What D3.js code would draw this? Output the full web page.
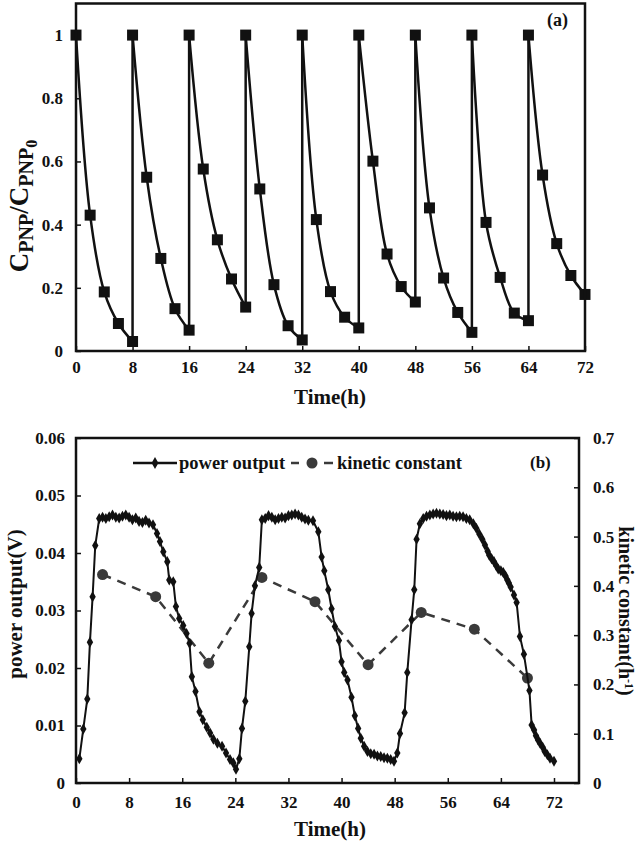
<!DOCTYPE html>
<html>
<head>
<meta charset="utf-8">
<script src="https://cdn.jsdelivr.net/npm/d3@7"></script>
<style>
  html, body { margin: 0; padding: 0; background: #fff; }
  svg { display: block; }
  text { font-family: "Liberation Serif", "Times New Roman", serif; font-weight: bold; fill: #111; }
</style>
</head>
<body>
<svg id="chart" width="642" height="843"></svg>
<script>
// ---------- Panel (a) data ----------
const timeA = [0,2,4,6,8, 8,10,12,14,16, 16,18,20,22,24, 24,26,28,30,32, 32,34,36,38,40,
               40,42,44,46,48, 48,50,52,54,56, 56,58,60,62,64, 64,66,68,70,72];
const concA = [1,0.43,0.187,0.087,0.03, 1,0.55,0.293,0.134,0.066, 1,0.576,0.352,0.228,0.139,
               1,0.513,0.21,0.08,0.035, 1,0.416,0.188,0.107,0.073, 1,0.601,0.307,0.204,0.155,
               1,0.453,0.231,0.122,0.059, 1,0.407,0.233,0.12,0.096, 1,0.557,0.34,0.239,0.179];
const xTicksA = [0,8,16,24,32,40,48,56,64,72];
const yTicksA = [0,0.2,0.4,0.6,0.8,1];

// ---------- Panel (b) data ----------
const powerTime = [0.5,1.1,1.7,2.1,2.5,2.9,3.5,4,4.5,5,5.5,6,6.5,7,7.5,8,8.5,9,9.5,10,10.5,11,11.6,
  12.2,12.65,13.15,13.75,14.05,14.65,15.05,15.55,16.15,16.65,17.1,17.45,18,18.6,19.1,19.7,20.2,20.7,
  21.3,22,22.6,23.2,23.7,24.1,24.6,25,25.5,26.1,26.45,26.95,27.6,28,
  28.5,29,29.5,30,30.5,31,31.5,32,32.5,33,33.5,34,34.5,35,35.7,36.5,37,37.4,38,38.5,39,39.6,40,40.4,
  40.9,41.5,42,42.5,42.9,43.4,43.9,44.4,44.9,45.4,45.9,46.4,46.9,47.4,47.9,48.4,48.8,49.5,49.9,50.55,
  50.95,51.3,51.8,52.3,52.8,53.3,53.8,54.3,54.8,55.3,55.8,56.3,56.8,57.3,57.8,58.3,58.8,59.3,59.85,
  60.3,60.75,61.2,61.6,62,62.25,62.6,62.96,63.3,63.6,64,64.36,64.7,64.97,65.2,65.47,65.97,66.37,66.87,
  67.47,68.3,68.63,69,69.28,69.6,69.9,70.3,70.6,71,71.4,72];
const powerValue = [0.0042,0.0094,0.0146,0.0245,0.0324,0.0413,0.046,0.0462,0.046,0.0463,0.0466,0.0462,
  0.0461,0.0464,0.0466,0.0462,0.0458,0.0461,0.0455,0.0453,0.0457,0.0452,0.0449,
  0.0434,0.042,0.0402,0.0385,0.0353,0.035,0.0307,0.0286,0.0274,0.026,0.0243,0.0185,0.0159,0.0124,0.011,
  0.0097,0.0087,0.0076,0.0069,0.0064,0.0052,0.0041,0.0035,0.0024,0.0042,0.0095,0.0142,0.0237,0.0295,
  0.0343,0.0375,0.0458,
  0.046,0.0465,0.0462,0.0458,0.046,0.0462,0.0461,0.0465,0.0466,0.0468,0.0466,0.0462,0.0459,0.0457,
  0.0456,0.0437,0.0393,0.0369,0.0336,0.0303,0.0272,0.0248,0.0211,0.0192,0.0179,0.0149,0.0117,0.0095,
  0.0078,0.0064,0.0055,0.0051,0.005,0.0047,0.0046,0.0044,0.0043,0.0041,0.0038,0.0052,0.0086,0.0122,
  0.0192,0.0284,0.0336,0.0424,0.0451,0.046,0.0464,0.0466,0.0468,0.0469,0.0468,0.0467,0.0465,0.0466,
  0.0464,0.0463,0.0464,0.0463,0.046,0.0458,0.0451,0.0443,0.0433,0.0424,0.0414,0.0403,0.0396,0.039,
  0.0385,0.0378,0.0372,0.0369,0.0366,0.036,0.0353,0.0348,0.0341,0.0327,0.0314,0.0255,0.0224,0.0161,
  0.0101,0.0092,0.0082,0.0075,0.0069,0.0062,0.0055,0.0049,0.0043,0.0038];
const kineticTime = [4,12,20,28,36,44,52,60,68];
const kineticValue = [0.423,0.378,0.243,0.417,0.368,0.24,0.346,0.312,0.213];
const xTicksB = [0,8,16,24,32,40,48,56,64,72];
const yTicksB = [0,0.01,0.02,0.03,0.04,0.05,0.06];
const kTicksB = [0,0.1,0.2,0.3,0.4,0.5,0.6,0.7];

const svg = d3.select("#chart");
const FS = 17;

function styleAxis(g) {
  g.select(".domain").remove();
  g.selectAll(".tick line").attr("stroke", "#111").attr("stroke-width", 1.5);
  g.selectAll(".tick text").style("font-size", FS + "px").attr("fill", "#111");
}

// ================= Panel (a) =================
const A = { l: 76, r: 585, t: 3.5, b: 351 };
const xA = d3.scaleLinear().domain([0, 72]).range([A.l, A.r]);
const yA = d3.scaleLinear().domain([0, 1.1]).range([A.b, A.t]);

const gA = svg.append("g");
gA.append("g").attr("transform", `translate(0,${A.b})`)
  .call(d3.axisBottom(xA).tickValues(xTicksA).tickSize(-5).tickSizeOuter(0).tickPadding(10))
  .call(styleAxis);
gA.append("g").attr("transform", `translate(${A.l},0)`)
  .call(d3.axisLeft(yA).tickValues(yTicksA).tickSize(-5).tickSizeOuter(0).tickPadding(13)
    .tickFormat(d => String(Math.round(d * 10) / 10)))
  .call(styleAxis);

// split series into cycles (restart where time repeats)
const ptsA = timeA.map((t, i) => ({ t, v: concA[i] }));
const cycles = [];
let cur = [];
ptsA.forEach((p, i) => {
  if (i > 0 && p.t === ptsA[i - 1].t) { cycles.push(cur); cur = []; }
  cur.push(p);
});
cycles.push(cur);

const lineA = d3.line().x(d => xA(d.t)).y(d => yA(d.v)).curve(d3.curveCatmullRom.alpha(0.5));
cycles.forEach(c => {
  gA.append("path").datum(c).attr("d", lineA)
    .attr("fill", "none").attr("stroke", "#111").attr("stroke-width", 2.5);
});
// vertical reset lines
for (let i = 1; i < ptsA.length; i++) {
  if (ptsA[i].t === ptsA[i - 1].t) {
    gA.append("line")
      .attr("x1", xA(ptsA[i].t)).attr("x2", xA(ptsA[i].t))
      .attr("y1", yA(ptsA[i - 1].v)).attr("y2", yA(ptsA[i].v))
      .attr("stroke", "#111").attr("stroke-width", 2.5);
  }
}
gA.selectAll("path.sq").data(ptsA).enter().append("path").attr("class", "sq")
  .attr("d", d3.symbol(d3.symbolSquare, 121))
  .attr("transform", d => `translate(${xA(d.t)},${yA(d.v)})`)
  .attr("fill", "#111");

gA.append("rect").attr("x", A.l).attr("y", A.t).attr("width", A.r - A.l).attr("height", A.b - A.t)
  .attr("fill", "none").attr("stroke", "#111").attr("stroke-width", 2.5);

gA.append("text").attr("x", 547).attr("y", 26).style("font-size", "18px").text("(a)");
gA.append("text").attr("x", 330).attr("y", 404).attr("text-anchor", "middle")
  .style("font-size", "21px").text("Time(h)");

// y label C_PNP / C_PNP_0
const ylabA = gA.append("text").attr("transform", "translate(28,206) rotate(-90)")
  .attr("text-anchor", "middle");
ylabA.append("tspan").style("font-size", "27px").text("C");
ylabA.append("tspan").style("font-size", "20px").attr("dy", 5).text("PNP");
ylabA.append("tspan").style("font-size", "27px").attr("dy", -5).text("/C");
ylabA.append("tspan").style("font-size", "20px").attr("dy", 5).text("PNP");
ylabA.append("tspan").style("font-size", "16px").attr("dy", 4).text("0");

// ================= Panel (b) =================
const B = { l: 76, r: 579, t: 438, b: 783 };
const xB = d3.scaleLinear().domain([0, 72]).range([B.l, 554]);
const yB = d3.scaleLinear().domain([0, 0.06]).range([B.b, B.t]);
const yK = d3.scaleLinear().domain([0, 0.7]).range([B.b, B.t]);

const gB = svg.append("g");
gB.append("g").attr("transform", `translate(0,${B.b})`)
  .call(d3.axisBottom(xB).tickValues(xTicksB).tickSize(-5).tickSizeOuter(0).tickPadding(13))
  .call(styleAxis);
gB.append("g").attr("transform", `translate(${B.l},0)`)
  .call(d3.axisLeft(yB).tickValues(yTicksB).tickSize(-5).tickSizeOuter(0).tickPadding(11)
    .tickFormat(d => d === 0 ? "0" : d3.format(".2f")(d)))
  .call(styleAxis);
gB.append("g").attr("transform", `translate(${B.r},0)`)
  .call(d3.axisRight(yK).tickValues(kTicksB).tickSize(-5).tickSizeOuter(0).tickPadding(14)
    .tickFormat(d => d === 0 ? "0" : d3.format(".1f")(d)))
  .call(styleAxis);

const ptsP = powerTime.map((t, i) => ({ t, v: powerValue[i] }));
const ptsK = kineticTime.map((t, i) => ({ t, v: kineticValue[i] }));

gB.append("path").datum(ptsK)
  .attr("d", d3.line().x(d => xB(d.t)).y(d => yK(d.v)))
  .attr("fill", "none").attr("stroke", "#3a3a3a").attr("stroke-width", 2.5)
  .attr("stroke-dasharray", "9,7");
gB.selectAll("circle.k").data(ptsK).enter().append("circle").attr("class", "k")
  .attr("cx", d => xB(d.t)).attr("cy", d => yK(d.v)).attr("r", 5.5).attr("fill", "#3a3a3a");

gB.append("path").datum(ptsP)
  .attr("d", d3.line().x(d => xB(d.t)).y(d => yB(d.v)))
  .attr("fill", "none").attr("stroke", "#111").attr("stroke-width", 2);
gB.selectAll("path.dm").data(ptsP).enter().append("path").attr("class", "dm")
  .attr("d", d3.symbol(d3.symbolDiamond, 35))
  .attr("transform", d => `translate(${xB(d.t)},${yB(d.v)})`)
  .attr("fill", "#111");

gB.append("rect").attr("x", B.l).attr("y", B.t).attr("width", B.r - B.l).attr("height", B.b - B.t)
  .attr("fill", "none").attr("stroke", "#111").attr("stroke-width", 2.5);

// legend
const LY = 463;
gB.append("line").attr("x1", 133).attr("x2", 177).attr("y1", LY).attr("y2", LY)
  .attr("stroke", "#111").attr("stroke-width", 2.5);
gB.append("path").attr("d", d3.symbol(d3.symbolDiamond, 40)).attr("transform", `translate(155,${LY})`).attr("fill", "#111");
gB.append("text").attr("x", 179).attr("y", LY + 6).style("font-size", "18.5px").text("power output");
gB.append("line").attr("x1", 291).attr("x2", 299).attr("y1", LY).attr("y2", LY)
  .attr("stroke", "#3a3a3a").attr("stroke-width", 2.5);
gB.append("circle").attr("cx", 312).attr("cy", LY).attr("r", 5.5).attr("fill", "#3a3a3a");
gB.append("line").attr("x1", 324).attr("x2", 333).attr("y1", LY).attr("y2", LY)
  .attr("stroke", "#3a3a3a").attr("stroke-width", 2.5);
gB.append("text").attr("x", 337).attr("y", LY + 6).style("font-size", "18.5px").text("kinetic constant");
gB.append("text").attr("x", 530).attr("y", LY + 5).style("font-size", "17px").text("(b)");

gB.append("text").attr("x", 330).attr("y", 836).attr("text-anchor", "middle")
  .style("font-size", "21px").text("Time(h)");
gB.append("text").attr("transform", "translate(15,604) rotate(-90)").attr("text-anchor", "middle")
  .attr("dy", "0.35em").style("font-size", "21px").text("power output(V)");
const kl = gB.append("text").attr("transform", "translate(626,611) rotate(90)").attr("text-anchor", "middle")
  .attr("dy", "0.35em").style("font-size", "20px");
kl.append("tspan").text("kinetic constant(h");
kl.append("tspan").attr("dy", -6).style("font-size", "12px").text("-1");
kl.append("tspan").attr("dy", 6).text(")");
</script>
</body>
</html>
